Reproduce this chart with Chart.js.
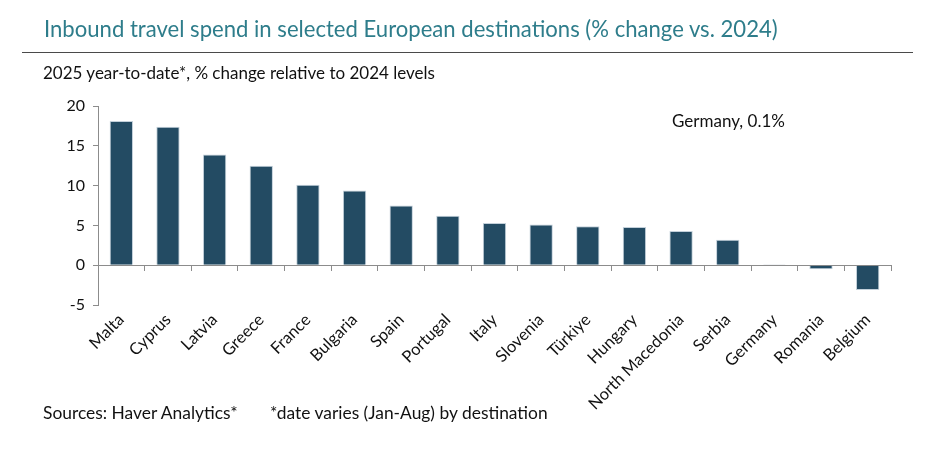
<!DOCTYPE html>
<html>
<head>
<meta charset="utf-8">
<script src="https://cdn.jsdelivr.net/npm/chart.js@4.4.0/dist/chart.umd.min.js"></script>
<style>
  html, body { margin:0; padding:0; background:#fff; }
  body { width:947px; height:470px; position:relative; overflow:hidden; font-family: Lato, "Open Sans", sans-serif; }
  #title { position:absolute; left:44px; top:15px; font-size:22.1px; color:#2e7d8b; white-space:nowrap; }
  #rule { position:absolute; left:22px; top:52px; width:891px; height:0; border-top:1.5px solid #4a4a4a; }
  #subtitle { position:absolute; left:43px; top:62px; font-size:17px; color:#111; white-space:nowrap; }
  #sources { position:absolute; left:43px; top:402px; font-size:17.4px; color:#111; white-space:nowrap; }
  #note { position:absolute; left:270px; top:402px; font-size:17.4px; color:#111; white-space:nowrap; }
  #wrap { position:absolute; left:0; top:0; width:947px; height:470px; }
</style>
</head>
<body>
<div id="wrap"><canvas id="c" width="947" height="470"></canvas></div>
<div id="title">Inbound travel spend in selected European destinations (% change vs. 2024)</div>
<div id="rule"></div>
<div id="subtitle">2025 year-to-date*, % change relative to 2024 levels</div>
<div id="sources">Sources: Haver Analytics*</div>
<div id="note">*date varies (Jan-Aug) by destination</div>
<script>
const categories = ["Malta","Cyprus","Latvia","Greece","France","Bulgaria","Spain","Portugal","Italy","Slovenia","Türkiye","Hungary","North Macedonia","Serbia","Germany","Romania","Belgium"];
const spendChange = [18.1, 17.4, 13.9, 12.5, 10.1, 9.4, 7.5, 6.2, 5.3, 5.1, 4.9, 4.8, 4.3, 3.2, 0.1, -0.5, -3.1];
const yTicks = [-5, 0, 5, 10, 15, 20];
const annotationText = "Germany, 0.1%";

const axisGray = '#8c8c8c';

const annotationPlugin = {
  id: 'annot',
  afterDraw(chart) {
    const ctx = chart.ctx;
    const a = chart.chartArea;
    ctx.save();
    ctx.font = '17px Lato, "Open Sans", sans-serif';
    ctx.fillStyle = '#111';
    ctx.textAlign = 'left';
    ctx.textBaseline = 'middle';
    ctx.fillText(annotationText, a.left + 574, a.top + 16);
    ctx.restore();
  }
};

new Chart(document.getElementById('c'), {
  type: 'bar',
  data: {
    labels: categories,
    datasets: [{
      data: spendChange,
      backgroundColor: '#234b63',
      borderColor: '#c3d0da',
      borderWidth: 1,
      barPercentage: 0.5,
      categoryPercentage: 1.0,
      xAxisID: 'x'
    }]
  },
  options: {
    responsive: false,
    animation: false,
    devicePixelRatio: 1,
    layout: { padding: { left: 0, top: 106, right: 56, bottom: 0 } },
    plugins: { legend: { display: false }, tooltip: { enabled: false } },
    scales: {
      x: {
        type: 'category',
        position: 'bottom',
        grid: { display: false, drawTicks: false },
        border: { display: false },
        ticks: {
          autoSkip: false, maxRotation: 45, minRotation: 45,
          padding: 5, color: '#111',
          font: { family: 'Lato, "Open Sans", sans-serif', size: 16.5 }
        },
        afterFit(scale) { scale.height = 165; scale.paddingLeft = 0; scale.paddingRight = 0; }
      },
      x2: {
        type: 'category',
        position: { y: 0 },
        grid: { display: true, drawOnChartArea: false, drawTicks: true, tickLength: 5, color: axisGray, lineWidth: 1 },
        border: { display: true, color: axisGray, width: 1 },
        ticks: { display: false }
      },
      y: {
        min: -5, max: 20,
        afterBuildTicks(scale) { scale.ticks = yTicks.map(v => ({ value: v })); },
        grid: { display: true, drawOnChartArea: false, drawTicks: true, tickLength: 5, color: axisGray },
        border: { display: true, color: axisGray, width: 1 },
        ticks: {
          padding: 8, color: '#111',
          font: { family: 'Lato, "Open Sans", sans-serif', size: 16 }
        },
        afterFit(scale) { scale.width = 98; }
      }
    }
  },
  plugins: [annotationPlugin]
});
</script>
</body>
</html>
